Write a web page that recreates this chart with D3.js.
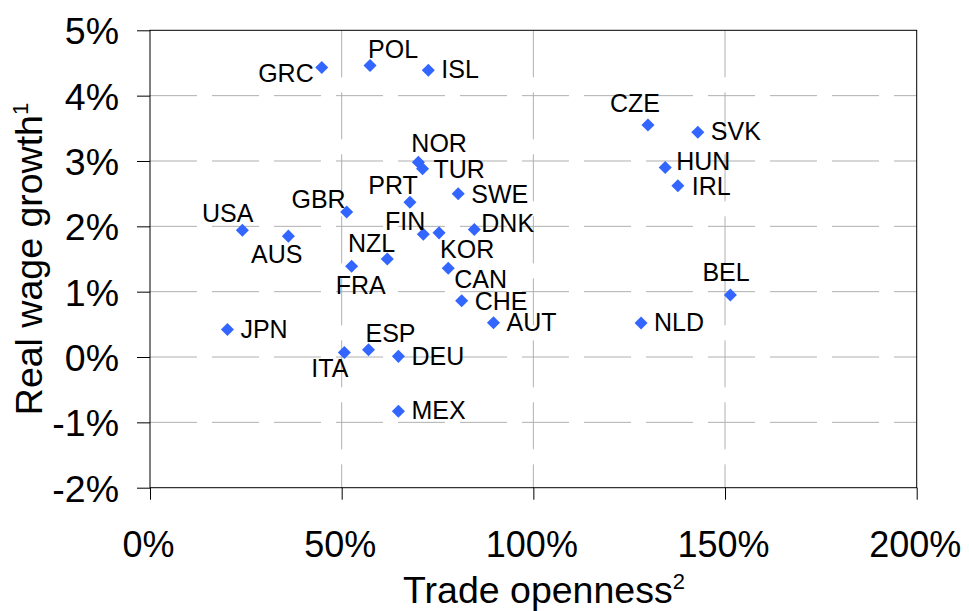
<!DOCTYPE html>
<html lang="en">
<head>
  <meta charset="UTF-8">
  <title>Real wage growth vs trade openness</title>
  <script src="https://d3js.org/d3.v7.min.js"></script>
  <style>
    body { margin: 0; background: #fff; }
    text { font-family: Arial, "Liberation Sans", sans-serif; fill: #000; }
    .grid line { stroke: #b0b0b0; stroke-width: 1; stroke-dasharray: 47,15; }
    .axis path, .axis line { stroke: #000; }
    .ylbl { font-size: 37.5px; }
    .xlbl { font-size: 36px; }
    .pt-lbl { font-size: 25px; }
    .title { font-size: 37.5px; }
  </style>
</head>
<body>
  <svg width="969" height="611"></svg>

  <script>
    // country codes, trade openness (% of GDP), real wage growth (%)
    const countries = ["GRC","POL","ISL","NOR","TUR","PRT","SWE","GBR","USA","AUS","FIN","KOR","DNK",
                       "NZL","FRA","CAN","CHE","AUT","JPN","ITA","ESP","DEU","MEX","CZE","SVK","HUN","IRL","BEL","NLD"];
    const openness  = [44.8, 57.4, 72.6, 70.0, 71.1, 67.8, 80.4, 51.3, 24.1, 36.1, 71.3, 75.4, 84.6,
                       61.9, 52.6, 77.8, 81.3, 89.6, 20.2, 50.7, 57.0, 64.8, 64.8, 129.9, 142.9, 134.4, 137.7, 151.4, 128.1];
    const wageGrowth = [4.43, 4.46, 4.39, 2.98, 2.88, 2.37, 2.50, 2.22, 1.94, 1.85, 1.88, 1.90, 1.95,
                        1.50, 1.39, 1.36, 0.86, 0.525, 0.42, 0.07, 0.11, 0.01, -0.83, 3.55, 3.44, 2.90, 2.62, 0.95, 0.52];
    const xTicks = [0, 50, 100, 150, 200];
    const yTicks = [-2, -1, 0, 1, 2, 3, 4, 5];

    // label placement next to each marker: [dx, dy, anchor]
    const labelPos = {
      GRC: [-8, 14, "end"],  POL: [-2, -8, "start"], ISL: [13, 8, "start"],
      NOR: [-7, -10, "start"], TUR: [11, 9, "start"], PRT: [8, -8, "end"],
      SWE: [13, 9, "start"], GBR: [-1, -4, "end"], USA: [11, -8, "end"],
      AUS: [14, 27, "end"], FIN: [2, -4, "end"], KOR: [1, 25, "start"],
      DNK: [7, 2, "start"], NZL: [8, -7, "end"], FRA: [-16, 28, "start"],
      CAN: [6, 20, "start"], CHE: [13, 9, "start"], AUT: [13, 8, "start"],
      JPN: [13, 8, "start"], ITA: [4, 25, "end"], ESP: [-3, -8, "start"],
      DEU: [13, 9, "start"], MEX: [13, 8, "start"], CZE: [12, -13, "end"],
      SVK: [13, 8, "start"], HUN: [11, 2, "start"], IRL: [14, 9, "start"],
      BEL: [-28, -14, "start"], NLD: [13, 8, "start"]
    };

    const data = countries.map((c, i) => ({ name: c, x: openness[i], y: wageGrowth[i] }));

    const svg = d3.select("svg");
    const plotL = 150, plotR = 916.7, plotT = 30.3, plotB = 487.7;

    const x = d3.scaleLinear().domain([0, 200]).range([plotL, plotR]);
    const y = d3.scaleLinear().domain([-2, 5]).range([plotB, plotT]);

    // gridlines
    const grid = svg.append("g").attr("class", "grid");
    grid.selectAll(".h").data(yTicks.filter(d => d > -2 && d < 5)).enter().append("line")
      .attr("x1", plotL).attr("x2", plotR)
      .attr("y1", d => y(d)).attr("y2", d => y(d));
    grid.selectAll(".v").data(xTicks.filter(d => d > 0 && d < 200)).enter().append("line")
      .attr("y1", plotT).attr("y2", plotB)
      .attr("x1", d => x(d)).attr("x2", d => x(d));

    // frame
    svg.append("rect")
      .attr("x", plotL).attr("y", plotT)
      .attr("width", plotR - plotL).attr("height", plotB - plotT)
      .attr("fill", "none").attr("stroke", "#000");

    // axes
    const yAxis = svg.append("g").attr("class", "axis")
      .attr("transform", `translate(${plotL},0)`)
      .call(d3.axisLeft(y).tickValues(yTicks).tickSize(13).tickSizeOuter(0).tickFormat(d => d + "%"));
    yAxis.selectAll("text").attr("class", "ylbl").attr("x", -31).attr("dy", "0.36em");
    yAxis.select(".domain").remove();

    const xAxis = svg.append("g").attr("class", "axis")
      .attr("transform", `translate(0,${plotB})`)
      .call(d3.axisBottom(x).tickValues(xTicks).tickSize(12).tickSizeOuter(0).tickFormat(d => d + "%"));
    xAxis.selectAll("text").attr("class", "xlbl").attr("x", -2).attr("y", 69).attr("dy", 0);
    xAxis.select(".domain").remove();
    svg.selectAll(".axis").attr("font-family", null).attr("font-size", null);

    // markers
    const diamond = d3.symbol().type(d3.symbolSquare).size(85);
    svg.append("g").selectAll("path").data(data).enter().append("path")
      .attr("d", diamond)
      .attr("transform", d => `translate(${x(d.x)},${y(d.y)}) rotate(45)`)
      .attr("fill", "#3366ff");

    // labels
    svg.append("g").selectAll("text").data(data).enter().append("text")
      .attr("class", "pt-lbl")
      .attr("x", d => x(d.x) + labelPos[d.name][0])
      .attr("y", d => y(d.y) + labelPos[d.name][1])
      .attr("text-anchor", d => labelPos[d.name][2])
      .text(d => d.name);

    // axis titles
    const xt = svg.append("text").attr("class", "title")
      .attr("x", 544).attr("y", 603).attr("text-anchor", "middle");
    xt.append("tspan").text("Trade openness");
    xt.append("tspan").attr("font-size", 22).attr("dy", -14).text("2");

    const yt = svg.append("text").attr("class", "title")
      .attr("transform", `translate(42,${(plotT + plotB) / 2}) rotate(-90)`)
      .attr("text-anchor", "middle");
    yt.append("tspan").text("Real wage growth");
    yt.append("tspan").attr("font-size", 22).attr("dy", -14).text("1");
  </script>
</body>
</html>
